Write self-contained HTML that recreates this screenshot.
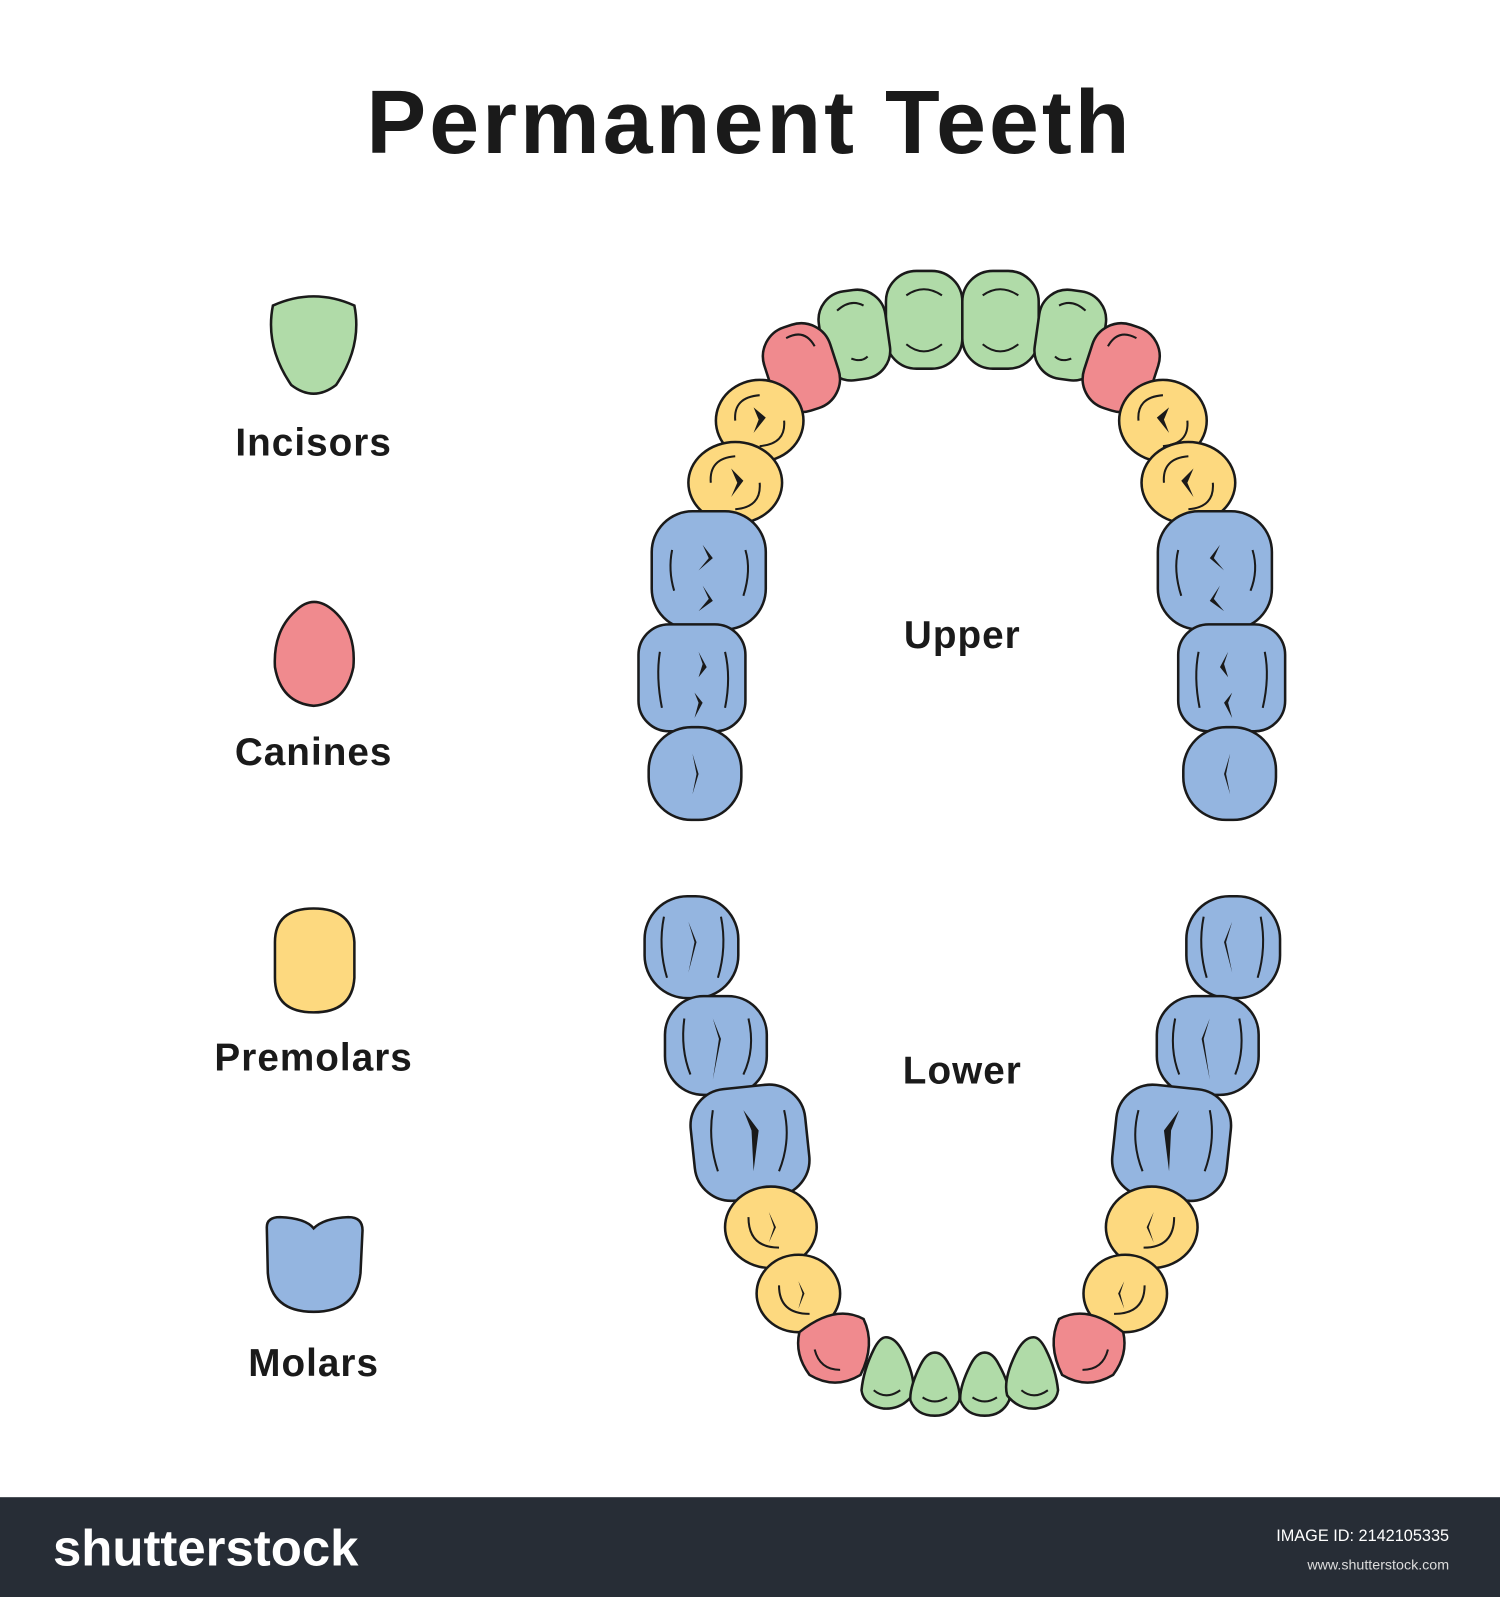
<!DOCTYPE html>
<html><head><meta charset="utf-8"><style>
html,body{margin:0;padding:0;background:#fff;}
svg{display:block;}
</style></head><body>
<svg width="1500" height="1597" viewBox="0 0 1473 1568" preserveAspectRatio="none" xmlns="http://www.w3.org/2000/svg" font-family="Liberation Sans, sans-serif">
<rect width="1473" height="1568" fill="#fff"/>
<text x="736" y="150" text-anchor="middle" font-size="88" font-weight="bold" fill="#1a1a1a" letter-spacing="3">Permanent Teeth</text>

<g stroke="#1a1a1a" stroke-width="2.5">
<path d="M268,300 Q308,282 348,300 Q356,340 330,378 Q308,395 286,378 Q260,340 268,300Z" fill="#b0dba8"/>
<path d="M290,600 Q308,582 328,600 Q350,620 347,655 Q340,690 308,693 Q276,690 270,655 Q268,620 290,600Z" fill="#f08a8e"/>
<path d="M270,925 Q270,892 308,892 Q346,892 348,925 L348,960 Q346,994 308,994 Q270,994 270,960Z" fill="#fdd97f"/>
<path d="M262,1205 Q262,1195 275,1195 Q300,1196 308,1206 Q318,1196 342,1195 Q356,1195 356,1208 L354,1250 Q350,1288 308,1288 Q266,1288 263,1250Z" fill="#94b5e0"/>

<rect x="870" y="266" width="75" height="96" rx="30" fill="#b0dba8"/>
<rect x="945" y="266" width="75" height="96" rx="30" fill="#b0dba8"/>
<rect x="806" y="285" width="66" height="88" rx="28" fill="#b0dba8" transform="rotate(-8 839 329)"/>
<rect x="1018" y="285" width="66" height="88" rx="28" fill="#b0dba8" transform="rotate(8 1051 329)"/>
<rect x="753" y="318" width="68" height="86" rx="30" fill="#f08a8e" transform="rotate(-18 787 361)"/>
<rect x="1067" y="318" width="68" height="86" rx="30" fill="#f08a8e" transform="rotate(18 1101 361)"/>
<ellipse cx="746" cy="413" rx="43" ry="40" fill="#fdd97f"/>
<ellipse cx="722" cy="474" rx="46" ry="40" fill="#fdd97f"/>
<ellipse cx="1142" cy="413" rx="43" ry="40" fill="#fdd97f"/>
<ellipse cx="1167" cy="474" rx="46" ry="40" fill="#fdd97f"/>
<rect x="640" y="502" width="112" height="116" rx="40" fill="#94b5e0"/>
<rect x="627" y="613" width="105" height="105" rx="30" fill="#94b5e0"/>
<rect x="637" y="714" width="91" height="91" rx="42" fill="#94b5e0"/>
<rect x="1137" y="502" width="112" height="116" rx="40" fill="#94b5e0"/>
<rect x="1157" y="613" width="105" height="105" rx="30" fill="#94b5e0"/>
<rect x="1162" y="714" width="91" height="91" rx="42" fill="#94b5e0"/>

<rect x="633" y="880" width="92" height="100" rx="42" fill="#94b5e0"/>
<rect x="653" y="978" width="100" height="97" rx="38" fill="#94b5e0"/>
<rect x="680" y="1067" width="113" height="110" rx="36" fill="#94b5e0" transform="rotate(-6 736 1122)"/>
<rect x="1165" y="880" width="92" height="100" rx="42" fill="#94b5e0"/>
<rect x="1136" y="978" width="100" height="97" rx="38" fill="#94b5e0"/>
<rect x="1094" y="1067" width="113" height="110" rx="36" fill="#94b5e0" transform="rotate(6 1150 1122)"/>
<ellipse cx="757" cy="1205" rx="45" ry="40" fill="#fdd97f"/>
<ellipse cx="784" cy="1270" rx="41" ry="38" fill="#fdd97f"/>
<ellipse cx="1131" cy="1205" rx="45" ry="40" fill="#fdd97f"/>
<ellipse cx="1105" cy="1270" rx="41" ry="38" fill="#fdd97f"/>
<path d="M785,1308 Q820,1280 848,1295 Q860,1320 845,1350 Q820,1365 795,1350 Q780,1330 785,1308Z" fill="#f08a8e"/>
<path d="M1103,1308 Q1068,1280 1040,1295 Q1028,1320 1043,1350 Q1068,1365 1093,1350 Q1108,1330 1103,1308Z" fill="#f08a8e"/>
<path d="M870,1313 Q880,1313 888,1330 Q900,1355 896,1370 Q885,1384 868,1383 Q848,1380 846,1365 Q848,1345 858,1325 Q864,1313 870,1313Z" fill="#b0dba8"/>
<path d="M918,1328 Q926,1328 932,1340 Q944,1362 942,1375 Q935,1390 918,1390 Q900,1390 894,1375 Q893,1362 904,1340 Q910,1328 918,1328Z" fill="#b0dba8"/>
<path d="M967,1328 Q975,1328 981,1340 Q993,1362 991,1375 Q984,1390 967,1390 Q949,1390 943,1375 Q942,1362 953,1340 Q959,1328 967,1328Z" fill="#b0dba8"/>
<path d="M1015,1313 Q1005,1313 997,1330 Q985,1355 989,1370 Q1000,1384 1017,1383 Q1037,1380 1039,1365 Q1037,1345 1027,1325 Q1021,1313 1015,1313Z" fill="#b0dba8"/>
</g>

<g fill="none" stroke="#1a1a1a" stroke-width="2">
<path d="M890,290 Q907,278 925,290"/><path d="M890,338 Q907,352 925,338"/>
<path d="M965,290 Q982,278 1000,290"/><path d="M965,338 Q982,352 1000,338"/>
<path d="M822,305 Q835,293 848,300"/><path d="M836,352 Q846,356 852,350"/>
<path d="M1040,300 Q1053,293 1066,305"/><path d="M1036,350 Q1042,356 1052,352"/>
<path d="M772,332 Q790,322 800,340"/><path d="M1088,340 Q1098,322 1116,332"/>
<path d="M722,413 Q720,390 746,388"/><path d="M770,413 Q772,436 746,438"/>
<path d="M698,474 Q696,450 722,448"/><path d="M746,474 Q748,498 722,500"/>
<path d="M1118,413 Q1116,390 1142,388"/><path d="M1166,413 Q1168,436 1142,438"/>
<path d="M1143,474 Q1141,450 1167,448"/><path d="M1191,474 Q1193,498 1167,500"/>
<path d="M660,540 Q656,560 662,580"/><path d="M732,540 Q738,560 730,585"/>
<path d="M1157,540 Q1152,560 1160,585"/><path d="M1230,540 Q1236,560 1228,580"/>
<path d="M648,640 Q644,665 650,695"/><path d="M712,640 Q718,665 712,695"/>
<path d="M1177,640 Q1172,665 1178,695"/><path d="M1242,640 Q1247,665 1240,695"/>
<path d="M652,900 Q646,930 655,960"/><path d="M708,900 Q714,930 705,960"/>
<path d="M1182,900 Q1176,930 1185,960"/><path d="M1238,900 Q1244,930 1235,960"/>
<path d="M672,1000 Q668,1030 678,1055"/><path d="M735,1000 Q742,1030 730,1055"/>
<path d="M1154,1000 Q1148,1030 1158,1055"/><path d="M1217,1000 Q1223,1030 1213,1055"/>
<path d="M700,1090 Q695,1120 705,1150"/><path d="M770,1090 Q777,1120 765,1150"/>
<path d="M1118,1090 Q1110,1120 1122,1150"/><path d="M1188,1090 Q1194,1120 1183,1150"/>
<path d="M735,1195 Q735,1225 765,1225"/><path d="M1153,1195 Q1153,1225 1123,1225"/>
<path d="M765,1262 Q765,1290 795,1290"/><path d="M1124,1262 Q1124,1290 1094,1290"/>
<path d="M800,1325 Q805,1345 825,1345"/><path d="M1088,1325 Q1083,1345 1063,1345"/>
<path d="M858,1365 Q870,1375 884,1365"/><path d="M906,1372 Q918,1380 930,1372"/>
<path d="M955,1372 Q967,1380 979,1372"/><path d="M1003,1365 Q1015,1375 1029,1365"/>
</g>
<g fill="#1a1a1a">
<path d="M740,400 L752,410 L740,425 L745,412Z"/><path d="M718,460 L730,472 L718,488 L724,474Z"/>
<path d="M1148,400 L1136,410 L1148,425 L1143,412Z"/><path d="M1172,460 L1160,472 L1172,488 L1166,474Z"/>
<path d="M690,535 L700,548 L686,560 L696,548Z"/><path d="M690,575 L700,590 L686,600 L696,588Z"/>
<path d="M1198,535 L1188,548 L1202,560 L1192,548Z"/><path d="M1198,575 L1188,590 L1202,600 L1192,588Z"/>
<path d="M686,640 L694,655 L686,665 L690,652Z"/><path d="M682,680 L690,690 L682,705 L686,690Z"/>
<path d="M1206,640 L1198,655 L1206,665 L1202,652Z"/><path d="M1210,680 L1202,690 L1210,705 L1206,690Z"/>
<path d="M680,740 L684,760 L680,780 L686,760Z"/><path d="M1208,740 L1204,760 L1208,780 L1202,760Z"/>
<path d="M676,905 L682,925 L676,955 L684,925Z"/><path d="M1210,905 L1204,925 L1210,955 L1202,925Z"/>
<path d="M700,1000 L706,1020 L700,1060 L708,1020Z"/><path d="M1188,1000 L1182,1020 L1188,1060 L1180,1020Z"/>
<path d="M730,1090 L738,1110 L740,1150 L745,1110Z"/><path d="M1158,1090 L1150,1110 L1148,1150 L1143,1110Z"/>
<path d="M755,1190 L762,1205 L755,1220 L760,1205Z"/><path d="M1133,1190 L1126,1205 L1133,1220 L1128,1205Z"/>
<path d="M784,1258 L790,1270 L784,1285 L788,1270Z"/><path d="M1104,1258 L1098,1270 L1104,1285 L1100,1270Z"/>
</g>

<g font-weight="bold" fill="#1a1a1a" text-anchor="middle" font-size="38" letter-spacing="1">
<text x="308" y="447">Incisors</text>
<text x="308" y="751">Canines</text>
<text x="308" y="1051">Premolars</text>
<text x="308" y="1351">Molars</text>
<text x="945" y="636">Upper</text>
<text x="945" y="1064">Lower</text>
</g>

<rect x="0" y="1470" width="1473" height="98" fill="#272d36"/>
<text x="52" y="1537" font-size="50" font-weight="bold" fill="#fff">shutterstock</text>
<text x="1423" y="1513" text-anchor="end" font-size="16" fill="#fff">IMAGE ID: 2142105335</text>
<text x="1423" y="1541" text-anchor="end" font-size="14" fill="#ddd">www.shutterstock.com</text>
</svg>
</body></html>
